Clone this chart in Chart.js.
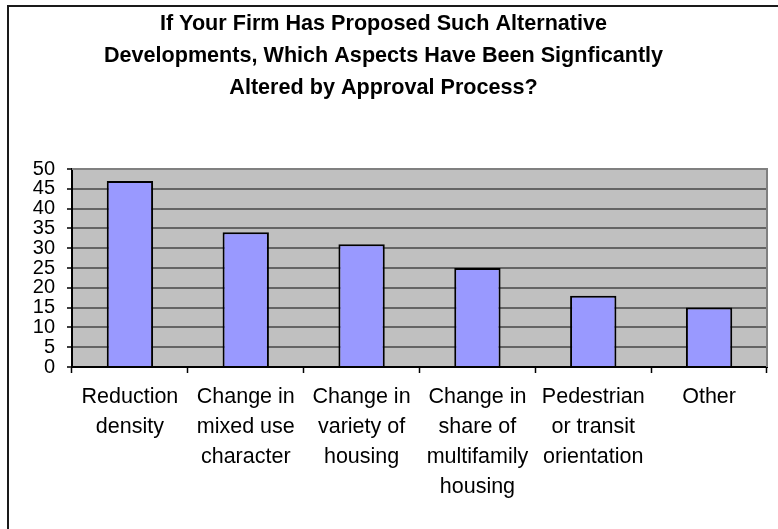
<!DOCTYPE html>
<html>
<head>
<meta charset="utf-8">
<script src="https://cdn.jsdelivr.net/npm/chart.js@4.4.1/dist/chart.umd.min.js"></script>
<style>
  html, body { margin: 0; padding: 0; background: #fff; }
  #wrap { position: relative; width: 778px; height: 529px; overflow: hidden; }
  #frame { position: absolute; left: 7px; top: 5px; width: 800px; height: 600px;
           border-top: 2px solid #1a1a1a; border-left: 2px solid #1a1a1a; }
  canvas { position: absolute; left: 0; top: 0; }
</style>
</head>
<body>
<div id="wrap">
  <div id="frame"></div>
  <canvas id="aspectsChart" width="778" height="529"></canvas>
</div>
<script>
const titleLines = [
  "If Your Firm Has Proposed Such Alternative",
  "Developments, Which Aspects Have Been Signficantly",
  "Altered by Approval Process?"
];
const categories = [
  ["Reduction", "density"],
  ["Change in", "mixed use", "character"],
  ["Change in", "variety of", "housing"],
  ["Change in", "share of", "multifamily", "housing"],
  ["Pedestrian", "or transit", "orientation"],
  ["Other"]
];
const responses = [47, 34, 31, 25, 18, 15];
const yTicks = [0, 5, 10, 15, 20, 25, 30, 35, 40, 45, 50];

const fontFamily = "'Liberation Sans', Arial, sans-serif";

// gray plot area with a thin border on top/right
const plotBackground = {
  id: "plotBackground",
  beforeDraw(chart) {
    const { ctx, chartArea: a } = chart;
    ctx.save();
    ctx.fillStyle = "#c0c0c0";
    ctx.fillRect(a.left, a.top, a.right - a.left, a.bottom - a.top);
    ctx.restore();
  },
  afterDraw(chart) {
    const { ctx, chartArea: a } = chart;
    ctx.save();
    ctx.strokeStyle = "#808080";
    ctx.lineWidth = 2;
    ctx.beginPath();
    ctx.moveTo(a.left, a.top);
    ctx.lineTo(a.right, a.top);
    ctx.lineTo(a.right, a.bottom);
    ctx.stroke();
    ctx.restore();
  }
};

const ctx = document.getElementById("aspectsChart").getContext("2d");
new Chart(ctx, {
  type: "bar",
  data: {
    labels: categories,
    datasets: [{
      data: responses,
      backgroundColor: "#9999ff",
      borderColor: "#000",
      borderWidth: 2,
      barPercentage: 0.4,
      categoryPercentage: 1
    }]
  },
  options: {
    responsive: false,
    animation: false,
    layout: { padding: { left: 0, right: 11, top: 0, bottom: 0 } },
    plugins: {
      legend: { display: false },
      tooltip: { enabled: false },
      title: {
        display: true,
        text: titleLines,
        color: "#000",
        font: { family: fontFamily, size: 21.6, weight: "bold", lineHeight: 32 / 21.6 },
        padding: { top: 8, bottom: 65 }
      }
    },
    scales: {
      x: {
        grid: {
          drawOnChartArea: false,
          drawTicks: true,
          tickLength: 6,
          tickColor: "#000",
          tickWidth: 1.5
        },
        border: { color: "#000", width: 2 },
        ticks: {
          color: "#000",
          maxRotation: 0,
          autoSkip: false,
          padding: 9,
          font: { family: fontFamily, size: 21.5, lineHeight: 30 / 21.5 }
        },
        afterFit(scale) { scale.height = 529 - 367; }
      },
      y: {
        min: 0,
        max: 50,
        afterBuildTicks(scale) { scale.ticks = yTicks.map(v => ({ value: v })); },
        grid: {
          color: "#646464",
          lineWidth: 2,
          tickLength: 5,
          tickColor: "#000",
          tickWidth: 1.5
        },
        border: { color: "#000", width: 2 },
        ticks: {
          color: "#000",
          autoSkip: false,
          padding: 12,
          font: { family: fontFamily, size: 20, lineHeight: 1 }
        },
        afterFit(scale) { scale.width = 72; }
      }
    }
  },
  plugins: [plotBackground]
});
</script>
</body>
</html>
